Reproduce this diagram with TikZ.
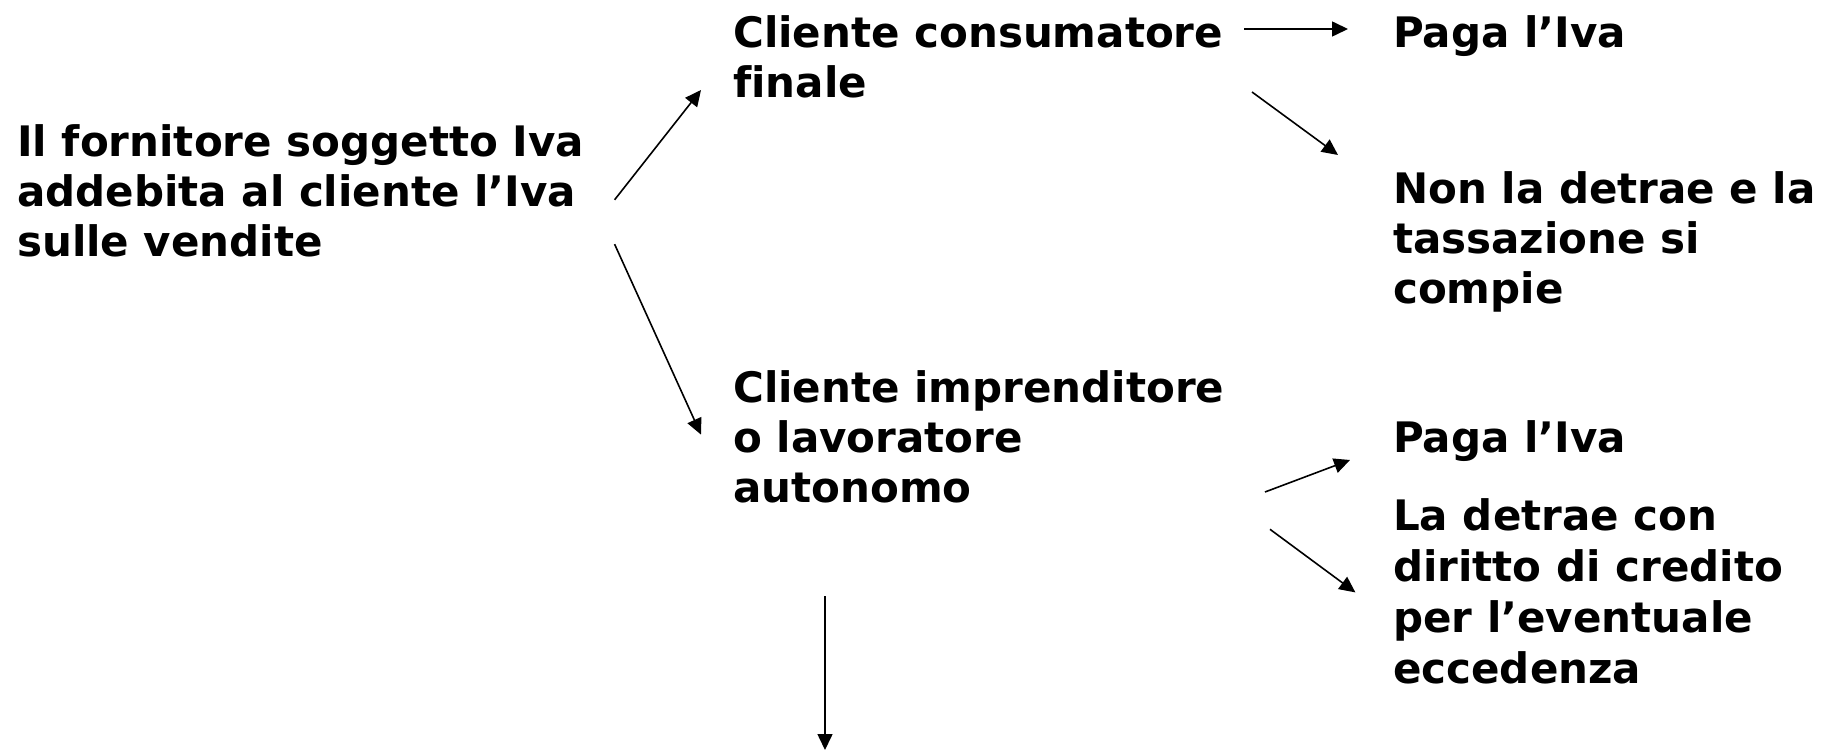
\documentclass[tikz,border=0pt]{standalone}
\usepackage{fontspec}
\setmainfont{DejaVu Sans}[Ligatures=NoCommon]
\usetikzlibrary{arrows.meta}
\begin{document}
\begin{tikzpicture}[x=1pt,y=-1pt,
  txt/.style={anchor=base west, inner sep=0pt, align=left,
    font=\fontsize{42}{50}\selectfont\bfseries},
  arr/.style={line width=1.6pt, -{Triangle[length=16pt,width=15pt]}}]
\useasboundingbox (0,0) rectangle (1832,751);
% anchor = baseline of the last line
\node[txt] (forn) at (17,257) {Il fornitore soggetto Iva\\addebita al cliente l’Iva\\sulle vendite};
\node[txt] (cons) at (733,98) {Cliente consumatore\\finale};
\node[txt] (paga1) at (1393,48) {Paga l’Iva};
\node[txt] (nond) at (1393,304) {Non la detrae e la\\tassazione si\\compie};
\node[txt] (impr) at (733,502) {Cliente imprenditore\\o lavoratore\\autonomo};
\node[txt] (paga2) at (1393,452) {Paga l’Iva};
\node[txt, font=\fontsize{42}{51}\selectfont\bfseries] (ladet) at (1393,683) {La detrae con\\diritto di credito\\per l’eventuale\\eccedenza};
\coordinate (a1) at (614.6,199.8); \coordinate (a2) at (701,90);
\coordinate (b1) at (614.6,244.2); \coordinate (b2) at (701,434.6);
\coordinate (c1) at (1244,29); \coordinate (c2) at (1348,29);
\coordinate (d1) at (1252,92); \coordinate (d2) at (1338,155);
\coordinate (e1) at (1265,492); \coordinate (e2) at (1350,460);
\coordinate (f1) at (1270,529.3); \coordinate (f2) at (1355.4,592.4);
\coordinate (g1) at (825,596); \coordinate (g2) at (825,750);
\draw[arr] (a1) -- (a2);
\draw[arr] (b1) -- (b2);
\draw[arr] (c1) -- (c2);
\draw[arr] (d1) -- (d2);
\draw[arr] (e1) -- (e2);
\draw[arr] (f1) -- (f2);
\draw[arr] (g1) -- (g2);
\end{tikzpicture}
\end{document}
